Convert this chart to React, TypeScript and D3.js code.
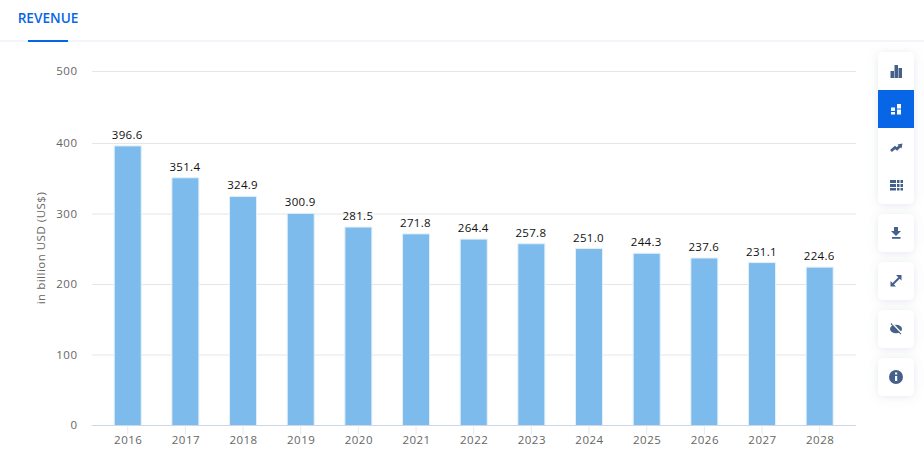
import * as d3 from "d3";

const years = ["2016", "2017", "2018", "2019", "2020", "2021", "2022", "2023", "2024", "2025", "2026", "2027", "2028"];
const revenue = [396.6, 351.4, 324.9, 300.9, 281.5, 271.8, 264.4, 257.8, 251.0, 244.3, 237.6, 231.1, 224.6];
const yTicks = [0, 100, 200, 300, 400, 500];

const width = 924;
const height = 462;
const font = "'Open Sans', sans-serif";
const iconColor = "#45618a";

function Card({ y, h, children }: { y: number; h: number; children?: React.ReactNode }) {
  return (
    <g>
      <rect x={878} y={y} width={36} height={h} rx={5} fill="#fff" filter="url(#cardShadow)" />
      {children}
    </g>
  );
}

export default function App() {
  const x = d3.scaleBand().domain(years).range([98.9, 848.5]);
  // the top gridline sits slightly high in the reference
  const y = d3.scaleLinear().domain([0, 400, 500]).range([425.5, 143.5, 71.5]);
  const barWidth = 27;

  return (
    <svg width={width} height={height} style={{ position: "absolute", left: 0, top: 0 }} fontFamily={font}>
      <defs>
        <filter id="cardShadow" x="-50%" y="-50%" width="200%" height="200%">
          <feDropShadow dx="0" dy="1" stdDeviation="5" floodColor="#8a9ab5" floodOpacity="0.22" />
        </filter>
      </defs>
      <rect width={width} height={height} fill="#fff" />

      {/* tab header */}
      <text x={48} y={23} textAnchor="middle" fontSize={13.6} fontWeight={600} fill="#0666e5">REVENUE</text>
      <rect x={0} y={40} width={width} height={2} fill="#f2f5f9" />
      <rect x={28} y={40} width={40} height={2} fill="#0666e5" />

      {/* grid and y axis */}
      {yTicks.map(t => (
        <g key={t}>
          {t > 0 && <line x1={92} x2={856} y1={y(t)} y2={y(t)} stroke="#e6e6e6" />}
          <text x={77.5} y={y(t) + 3.5} textAnchor="end" fontSize={11.5} fill="#666" letterSpacing={0.5}>{t}</text>
        </g>
      ))}
      <text transform="translate(44.5,248) rotate(-90)" textAnchor="middle" fontSize={11.5} fill="#666" letterSpacing={0.5}>in billion USD (US$)</text>

      {/* bars */}
      {revenue.map((v, i) => {
        const cx = x(years[i])! + x.bandwidth() / 2;
        return (
          <g key={years[i]}>
            <rect x={cx - barWidth / 2} y={y(v)} width={barWidth} height={y(0) - y(v)} fill="#7cbbeb" stroke="#e3f0fb" strokeWidth={1} />
            <text x={cx - 0.5} y={y(v) - 7} textAnchor="middle" fontSize={11.5} fill="#111" letterSpacing={0.3}>{v.toFixed(1)}</text>
          </g>
        );
      })}

      {/* x axis */}
      <line x1={92} x2={856} y1={y(0)} y2={y(0)} stroke="#ccd6eb" />
      {years.map(yr => {
        const cx = x(yr)! + x.bandwidth() / 2;
        return (
          <g key={yr}>
            <line x1={cx} x2={cx} y1={y(0)} y2={y(0) + 9} stroke="#e3e9f5" />
            <text x={cx + 0.5} y={444} textAnchor="middle" fontSize={11.5} fill="#666" letterSpacing={0.5}>{yr}</text>
          </g>
        );
      })}

      {/* toolbar */}
      <Card y={52} h={152}>
        <rect x={878} y={90} width={36} height={38} fill="#0666e5" />
        <g fill={iconColor}>
          <rect x={890.5} y={71} width={3.5} height={7} />
          <rect x={894.5} y={65} width={3.5} height={13} />
          <rect x={898.5} y={68} width={3.5} height={10} />
        </g>
        <g fill="#fff">
          <rect x={891} y={107.5} width={4} height={3.5} />
          <rect x={891} y={112} width={4} height={2.5} />
          <rect x={897} y={104} width={4} height={4.5} />
          <rect x={897} y={109.5} width={4} height={5} />
        </g>
        <path d="M891 151 L895 147.500 L897 149 L900 146" fill="none" stroke={iconColor} strokeWidth={2.8} />
        <path d="M897.500 144.500 L902.500 143.500 L901.500 148.500 Z" fill={iconColor} />
        <g fill={iconColor}>
          <rect x={890} y={180} width={6} height={3} />
          <rect x={890} y={184} width={6} height={3} />
          <rect x={890} y={188} width={6} height={2.5} />
          {[897, 900.5].map(ix => [180, 184, 188].map(iy => (
            <rect key={`${ix}-${iy}`} x={ix} y={iy} width={2.5} height={iy === 188 ? 2.5 : 3} />
          )))}
        </g>
      </Card>
      <Card y={214} h={38}>
        <path d="M894 227 h4 v4 h3 l-5 5 l-5 -5 h3 Z" fill={iconColor} />
        <rect x={892} y={237} width={8.5} height={1.8} fill={iconColor} />
      </Card>
      <Card y={262} h={38}>
        <path d="M892 285 L900 277" stroke={iconColor} strokeWidth={2} />
        <path d="M890.500 281 V286.500 H896 Z M901.500 280.500 V275 H896 Z" fill={iconColor} />
      </Card>
      <Card y={310} h={38}>
        <ellipse cx={896} cy={329} rx={6} ry={4.2} fill={iconColor} />
        <path d="M891 323.500 L901 334" stroke={iconColor} strokeWidth={1.2} />
        <path d="M892.500 323.500 L902 333.500" stroke="#fff" strokeWidth={1.2} />
      </Card>
      <Card y={358} h={38}>
        <circle cx={896} cy={377} r={7} fill={iconColor} />
        <rect x={895} y={376} width={2.2} height={5} fill="#fff" />
        <rect x={895} y={372.5} width={2.2} height={2} fill="#fff" />
      </Card>
    </svg>
  );
}
